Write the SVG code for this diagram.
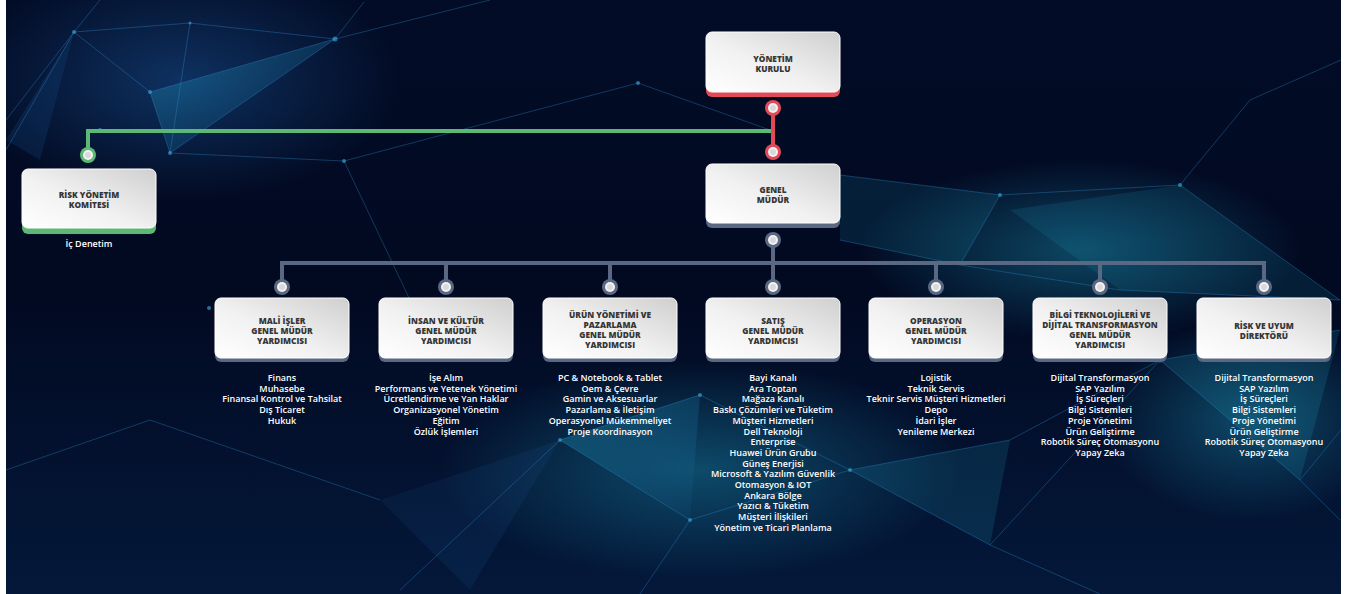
<svg xmlns="http://www.w3.org/2000/svg" width="1358" height="594" viewBox="0 0 1358 594">
<defs>
  <clipPath id="bgclip"><rect x="6" y="0" width="1335" height="594"/></clipPath>
  <linearGradient id="bg" x1="0" y1="0" x2="0" y2="1">
    <stop offset="0" stop-color="#020c26"/>
    <stop offset="0.5" stop-color="#020a22"/>
    <stop offset="1" stop-color="#04183a"/>
  </linearGradient>
  <radialGradient id="glow1" cx="0.5" cy="0.5" r="0.5">
    <stop offset="0" stop-color="#1a8fb0" stop-opacity="0.45"/>
    <stop offset="1" stop-color="#1a8fb0" stop-opacity="0"/>
  </radialGradient>
  <radialGradient id="glow2" cx="0.5" cy="0.5" r="0.5">
    <stop offset="0" stop-color="#1d5fa8" stop-opacity="0.45"/>
    <stop offset="1" stop-color="#1d5fa8" stop-opacity="0"/>
  </radialGradient>
  <linearGradient id="boxfill" x1="0" y1="1" x2="1" y2="0">
    <stop offset="0" stop-color="#ffffff"/>
    <stop offset="0.45" stop-color="#f1f1f1"/>
    <stop offset="1" stop-color="#cfcfcf"/>
  </linearGradient>
  <linearGradient id="tri" x1="0" y1="0" x2="1" y2="1">
    <stop offset="0" stop-color="#25b6d4" stop-opacity="0.35"/>
    <stop offset="1" stop-color="#1a6fb3" stop-opacity="0.08"/>
  </linearGradient>
  <style>
    .bx { fill: url(#boxfill); stroke: #ffffff; stroke-width: 1; }
    .lbl { font-family: "Open Sans", "Liberation Sans", sans-serif; font-weight: 800; font-size: 8.3px; fill: #363636; text-anchor: middle; }
    .lst { font-family: "Open Sans", "Liberation Sans", sans-serif; font-weight: 600; font-size: 9px; fill: #ffffff; text-anchor: middle; }
    .net { stroke: #2f8fd0; stroke-opacity: 0.35; stroke-width: 1; fill: none; }
    .nd { fill: #3fb0e0; fill-opacity: 0.6; }
    .red { stroke: #e24a57; }
    .grn { stroke: #5cb874; }
    .gry { stroke: #5a6884; }
    .ln { stroke-width: 4; fill: none; stroke-linecap: round; }
  </style>
  <g id="dotR"><circle r="8" fill="#e24a57"/><circle r="5" fill="#f2f2f2"/><circle r="3" fill="#d9d9d9"/></g>
  <g id="dotG"><circle r="8" fill="#5cb874"/><circle r="5" fill="#f2f2f2"/><circle r="3" fill="#d9d9d9"/></g>
  <g id="dotB"><circle r="8" fill="#5a6884"/><circle r="5" fill="#f2f2f2"/><circle r="3" fill="#d9d9d9"/></g>
</defs>

<!-- background -->
<rect x="0" y="0" width="1358" height="594" fill="#ffffff"/>
<g id="background" clip-path="url(#bgclip)">
  <rect x="6" y="0" width="1335" height="594" fill="url(#bg)"/>
  <ellipse cx="180" cy="80" rx="220" ry="120" fill="url(#glow2)"/>
  <ellipse cx="700" cy="470" rx="260" ry="110" fill="url(#glow1)"/>
  <ellipse cx="1080" cy="250" rx="220" ry="90" fill="url(#glow1)"/>
  <ellipse cx="1250" cy="420" rx="150" ry="100" fill="url(#glow1)"/>
  <polygon points="150,92 335,39 170,153" fill="url(#tri)"/>
  <polygon points="6,140 74,32 40,160" fill="#1d5fa8" fill-opacity="0.18"/>
  <polygon points="840,175 1000,195 960,265 840,240" fill="#25b6d4" fill-opacity="0.12"/>
  <polygon points="1010,210 1180,185 1340,300 1120,290" fill="#25b6d4" fill-opacity="0.12"/>
  <polygon points="560,440 700,395 690,520" fill="url(#tri)"/>
  <polygon points="850,470 1010,440 990,545" fill="#25b6d4" fill-opacity="0.14"/>
  <polygon points="1160,360 1340,330 1300,480" fill="#25b6d4" fill-opacity="0.15"/>
  <polygon points="380,500 560,440 470,590" fill="#1d5fa8" fill-opacity="0.12"/>
  <path class="net" d="M6,150 L74,32 L150,92 L335,39 L490,0 M74,32 L190,23 L335,39 L364,2 M150,92 L170,153 L335,39 M170,153 L344,161 L638,83 M190,23 L170,153 M6,120 L74,32 M74,32 L100,0 M344,161 L410,300 M638,83 L770,130"/>
  <path class="net" d="M840,175 L1000,195 L1180,185 L1340,300 M1000,195 L960,265 L1120,290 L1340,300 M1180,185 L1250,100 L1341,60 M960,265 L840,240"/>
  <path class="net" d="M400,590 L560,440 L700,395 L850,470 L1010,440 L1160,360 L1340,330 M560,440 L690,520 L850,470 L990,545 L1160,360 M690,520 L640,594 M990,545 L1100,594 M1300,480 L1340,520 M1160,360 L1300,480 L1341,430 M6,470 L150,420 L380,500"/>
  <circle class="nd" cx="74" cy="32" r="2"/><circle class="nd" cx="150" cy="92" r="2"/>
  <circle class="nd" cx="170" cy="153" r="2"/><circle class="nd" cx="335" cy="39" r="2.5"/>
  <circle class="nd" cx="344" cy="161" r="2"/><circle class="nd" cx="638" cy="83" r="2"/>
  <circle class="nd" cx="190" cy="23" r="1.5"/><circle class="nd" cx="100" cy="130" r="2"/>
  <circle class="nd" cx="1000" cy="195" r="2"/><circle class="nd" cx="1180" cy="185" r="2"/>
  <circle class="nd" cx="700" cy="395" r="2"/><circle class="nd" cx="850" cy="470" r="2"/>
  <circle class="nd" cx="1160" cy="360" r="2.5"/><circle class="nd" cx="560" cy="440" r="2"/>
  <circle class="nd" cx="209" cy="308" r="2"/><circle class="nd" cx="690" cy="520" r="2"/>
</g>

<!-- connectors -->
<g id="connectors">
  <path class="ln grn" d="M88,154 L88,131 L773,131"/>
  <path class="ln red" d="M773,108 L773,152"/>
  <path class="ln gry" d="M773,240 L773,263 M282,287 L282,263 L1264,263 L1264,287 M446,263 L446,287 M610,263 L610,287 M773,263 L773,287 M936,263 L936,287 M1100,263 L1100,287"/>
  <use href="#dotR" x="773" y="108"/>
  <use href="#dotR" x="773" y="152"/>
  <use href="#dotG" x="88" y="155"/>
  <use href="#dotB" x="773" y="240"/>
  <use href="#dotB" x="282" y="287"/>
  <use href="#dotB" x="446" y="287"/>
  <use href="#dotB" x="610" y="287"/>
  <use href="#dotB" x="773" y="287"/>
  <use href="#dotB" x="936" y="287"/>
  <use href="#dotB" x="1100" y="287"/>
  <use href="#dotB" x="1264" y="287"/>
</g>

<!-- top nodes -->
<g id="yonetim-kurulu">
  <rect x="706" y="37" width="134" height="60" rx="6" fill="#e24a57"/>
  <rect class="bx" x="706" y="32" width="134" height="60" rx="6"/>
  <text class="lbl" x="773" y="62">YÖNETİM</text>
  <text class="lbl" x="773" y="72">KURULU</text>
</g>
<g id="genel-mudur">
  <rect x="706" y="169" width="134" height="59" rx="6" fill="#5a6884"/>
  <rect class="bx" x="706" y="164" width="134" height="59" rx="6"/>
  <text class="lbl" x="773" y="193">GENEL</text>
  <text class="lbl" x="773" y="203">MÜDÜR</text>
</g>
<g id="risk-yonetim-komitesi">
  <rect x="22" y="174" width="134" height="60" rx="6" fill="#5cb874"/>
  <rect class="bx" x="22" y="169" width="134" height="59" rx="6"/>
  <text class="lbl" x="89" y="198">RİSK YÖNETİM</text>
  <text class="lbl" x="89" y="208">KOMİTESİ</text>
  <text class="lst" x="89" y="247">İç Denetim</text>
</g>

<!-- child nodes -->
<g id="mali-isler">
  <rect x="215" y="303" width="134" height="59" rx="6" fill="#5a6884"/>
  <rect class="bx" x="215" y="298" width="134" height="60" rx="6"/>
  <text class="lbl" x="282" y="324">MALİ İŞLER</text>
  <text class="lbl" x="282" y="334">GENEL MÜDÜR</text>
  <text class="lbl" x="282" y="344">YARDIMCISI</text>
  <text class="lst" x="282" y="381">Finans</text>
  <text class="lst" x="282" y="391.7">Muhasebe</text>
  <text class="lst" x="282" y="402.4">Finansal Kontrol ve Tahsilat</text>
  <text class="lst" x="282" y="413.1">Dış Ticaret</text>
  <text class="lst" x="282" y="423.8">Hukuk</text>
</g>
<g id="insan-ve-kultur">
  <rect x="379" y="303" width="134" height="59" rx="6" fill="#5a6884"/>
  <rect class="bx" x="379" y="298" width="134" height="60" rx="6"/>
  <text class="lbl" x="446" y="324">İNSAN VE KÜLTÜR</text>
  <text class="lbl" x="446" y="334">GENEL MÜDÜR</text>
  <text class="lbl" x="446" y="344">YARDIMCISI</text>
  <text class="lst" x="446" y="381">İşe Alım</text>
  <text class="lst" x="446" y="391.7">Performans ve Yetenek Yönetimi</text>
  <text class="lst" x="446" y="402.4">Ücretlendirme ve Yan Haklar</text>
  <text class="lst" x="446" y="413.1">Organizasyonel Yönetim</text>
  <text class="lst" x="446" y="423.8">Eğitim</text>
  <text class="lst" x="446" y="434.5">Özlük İşlemleri</text>
</g>
<g id="urun-yonetimi">
  <rect x="543" y="303" width="134" height="59" rx="6" fill="#5a6884"/>
  <rect class="bx" x="543" y="298" width="134" height="60" rx="6"/>
  <text class="lbl" x="610" y="318">ÜRÜN YÖNETİMİ VE</text>
  <text class="lbl" x="610" y="328">PAZARLAMA</text>
  <text class="lbl" x="610" y="338">GENEL MÜDÜR</text>
  <text class="lbl" x="610" y="348">YARDIMCISI</text>
  <text class="lst" x="610" y="381">PC &amp; Notebook &amp; Tablet</text>
  <text class="lst" x="610" y="391.7">Oem &amp; Çevre</text>
  <text class="lst" x="610" y="402.4">Gamin ve Aksesuarlar</text>
  <text class="lst" x="610" y="413.1">Pazarlama &amp; İletişim</text>
  <text class="lst" x="610" y="423.8">Operasyonel Mükemmeliyet</text>
  <text class="lst" x="610" y="434.5">Proje Koordinasyon</text>
</g>
<g id="satis">
  <rect x="706" y="303" width="134" height="59" rx="6" fill="#5a6884"/>
  <rect class="bx" x="706" y="298" width="134" height="60" rx="6"/>
  <text class="lbl" x="773" y="324">SATIŞ</text>
  <text class="lbl" x="773" y="334">GENEL MÜDÜR</text>
  <text class="lbl" x="773" y="344">YARDIMCISI</text>
  <text class="lst" x="773" y="381">Bayi Kanalı</text>
  <text class="lst" x="773" y="391.7">Ara Toptan</text>
  <text class="lst" x="773" y="402.4">Mağaza Kanalı</text>
  <text class="lst" x="773" y="413.1">Baskı Çözümleri ve Tüketim</text>
  <text class="lst" x="773" y="423.8">Müşteri Hizmetleri</text>
  <text class="lst" x="773" y="434.5">Dell Teknoloji</text>
  <text class="lst" x="773" y="445.2">Enterprise</text>
  <text class="lst" x="773" y="455.9">Huawei Ürün Grubu</text>
  <text class="lst" x="773" y="466.6">Güneş Enerjisi</text>
  <text class="lst" x="773" y="477.3">Microsoft &amp; Yazılım Güvenlik</text>
  <text class="lst" x="773" y="488">Otomasyon &amp; IOT</text>
  <text class="lst" x="773" y="498.7">Ankara Bölge</text>
  <text class="lst" x="773" y="509.4">Yazıcı &amp; Tüketim</text>
  <text class="lst" x="773" y="520.1">Müşteri İlişkileri</text>
  <text class="lst" x="773" y="530.8">Yönetim ve Ticari Planlama</text>
</g>
<g id="operasyon">
  <rect x="869" y="303" width="134" height="59" rx="6" fill="#5a6884"/>
  <rect class="bx" x="869" y="298" width="134" height="60" rx="6"/>
  <text class="lbl" x="936" y="324">OPERASYON</text>
  <text class="lbl" x="936" y="334">GENEL MÜDÜR</text>
  <text class="lbl" x="936" y="344">YARDIMCISI</text>
  <text class="lst" x="936" y="381">Lojistik</text>
  <text class="lst" x="936" y="391.7">Teknik Servis</text>
  <text class="lst" x="936" y="402.4">Teknir Servis Müşteri Hizmetleri</text>
  <text class="lst" x="936" y="413.1">Depo</text>
  <text class="lst" x="936" y="423.8">İdari İşler</text>
  <text class="lst" x="936" y="434.5">Yenileme Merkezi</text>
</g>
<g id="bilgi-teknolojileri">
  <rect x="1033" y="303" width="134" height="59" rx="6" fill="#5a6884"/>
  <rect class="bx" x="1033" y="298" width="134" height="60" rx="6"/>
  <text class="lbl" x="1100" y="318">BİLGİ TEKNOLOJİLERİ VE</text>
  <text class="lbl" x="1100" y="328">DİJİTAL TRANSFORMASYON</text>
  <text class="lbl" x="1100" y="338">GENEL MÜDÜR</text>
  <text class="lbl" x="1100" y="348">YARDIMCISI</text>
  <text class="lst" x="1100" y="381">Dijital Transformasyon</text>
  <text class="lst" x="1100" y="391.7">SAP Yazılım</text>
  <text class="lst" x="1100" y="402.4">İş Süreçleri</text>
  <text class="lst" x="1100" y="413.1">Bilgi Sistemleri</text>
  <text class="lst" x="1100" y="423.8">Proje Yönetimi</text>
  <text class="lst" x="1100" y="434.5">Ürün Geliştirme</text>
  <text class="lst" x="1100" y="445.2">Robotik Süreç Otomasyonu</text>
  <text class="lst" x="1100" y="455.9">Yapay Zeka</text>
</g>
<g id="risk-ve-uyum">
  <rect x="1197" y="303" width="134" height="59" rx="6" fill="#5a6884"/>
  <rect class="bx" x="1197" y="298" width="134" height="60" rx="6"/>
  <text class="lbl" x="1264" y="329">RİSK VE UYUM</text>
  <text class="lbl" x="1264" y="339">DİREKTÖRÜ</text>
  <text class="lst" x="1264" y="381">Dijital Transformasyon</text>
  <text class="lst" x="1264" y="391.7">SAP Yazılım</text>
  <text class="lst" x="1264" y="402.4">İş Süreçleri</text>
  <text class="lst" x="1264" y="413.1">Bilgi Sistemleri</text>
  <text class="lst" x="1264" y="423.8">Proje Yönetimi</text>
  <text class="lst" x="1264" y="434.5">Ürün Geliştirme</text>
  <text class="lst" x="1264" y="445.2">Robotik Süreç Otomasyonu</text>
  <text class="lst" x="1264" y="455.9">Yapay Zeka</text>
</g>
</svg>
